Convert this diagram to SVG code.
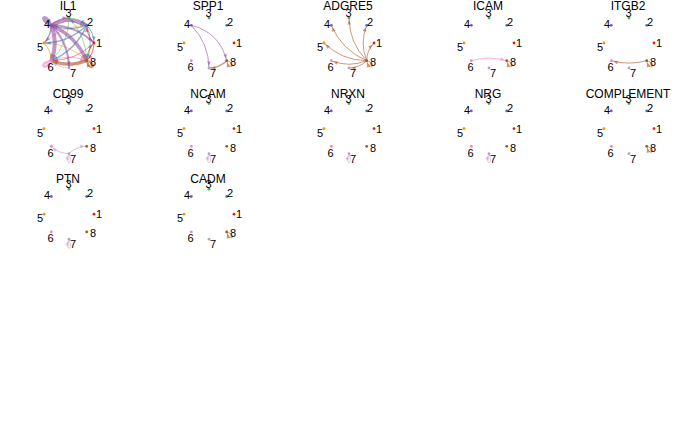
<svg xmlns="http://www.w3.org/2000/svg" width="700" height="432" viewBox="0 0 700 432">
<style>
text{font-family:"Liberation Sans",Arial,sans-serif;fill:#000;text-anchor:middle}
.title{font-size:12px}
.node text{font-size:11px}
.edges path{fill:none;stroke-opacity:0.6;stroke-width:1}
.e1{stroke:#E41A1C;marker-end:url(#a1)}
.e2{stroke:#377EB8;marker-end:url(#a2)}
.e3{stroke:#4DAF4A;marker-end:url(#a3)}
.e4{stroke:#984EA3;marker-end:url(#a4)}
.e5{stroke:#F29403;marker-end:url(#a5)}
.e6{stroke:#F781BF;marker-end:url(#a6)}
.e7{stroke:#BC9DCC;marker-end:url(#a7)}
.e8{stroke:#A65628;marker-end:url(#a8)}
.c1{fill:#E41A1C}.c2{fill:#377EB8}.c3{fill:#4DAF4A}.c4{fill:#984EA3}
.c5{fill:#F29403}.c6{fill:#F781BF}.c7{fill:#BC9DCC}.c8{fill:#A65628}
marker path{fill-opacity:0.6}
</style>
<defs>
<marker id="a1" viewBox="0 0 4.5 3.6" refX="6.5" refY="1.8" markerWidth="4.5" markerHeight="3.6" markerUnits="userSpaceOnUse" orient="auto" overflow="visible"><path class="c1" d="M0,0 L4.5,1.8 L0,3.6 z"/></marker>
<marker id="a2" viewBox="0 0 4.5 3.6" refX="6.5" refY="1.8" markerWidth="4.5" markerHeight="3.6" markerUnits="userSpaceOnUse" orient="auto" overflow="visible"><path class="c2" d="M0,0 L4.5,1.8 L0,3.6 z"/></marker>
<marker id="a3" viewBox="0 0 4.5 3.6" refX="6.5" refY="1.8" markerWidth="4.5" markerHeight="3.6" markerUnits="userSpaceOnUse" orient="auto" overflow="visible"><path class="c3" d="M0,0 L4.5,1.8 L0,3.6 z"/></marker>
<marker id="a4" viewBox="0 0 4.5 3.6" refX="6.5" refY="1.8" markerWidth="4.5" markerHeight="3.6" markerUnits="userSpaceOnUse" orient="auto" overflow="visible"><path class="c4" d="M0,0 L4.5,1.8 L0,3.6 z"/></marker>
<marker id="a5" viewBox="0 0 4.5 3.6" refX="6.5" refY="1.8" markerWidth="4.5" markerHeight="3.6" markerUnits="userSpaceOnUse" orient="auto" overflow="visible"><path class="c5" d="M0,0 L4.5,1.8 L0,3.6 z"/></marker>
<marker id="a6" viewBox="0 0 4.5 3.6" refX="6.5" refY="1.8" markerWidth="4.5" markerHeight="3.6" markerUnits="userSpaceOnUse" orient="auto" overflow="visible"><path class="c6" d="M0,0 L4.5,1.8 L0,3.6 z"/></marker>
<marker id="a7" viewBox="0 0 4.5 3.6" refX="6.5" refY="1.8" markerWidth="4.5" markerHeight="3.6" markerUnits="userSpaceOnUse" orient="auto" overflow="visible"><path class="c7" d="M0,0 L4.5,1.8 L0,3.6 z"/></marker>
<marker id="a8" viewBox="0 0 4.5 3.6" refX="6.5" refY="1.8" markerWidth="4.5" markerHeight="3.6" markerUnits="userSpaceOnUse" orient="auto" overflow="visible"><path class="c8" d="M0,0 L4.5,1.8 L0,3.6 z"/></marker>
</defs>
<rect width="700" height="432" fill="#fff"/>

<!-- IL1 -->
<g id="panel-IL1" transform="translate(69,43)">
<text class="title" x="-1" y="-33.5">IL1</text>
<g id="IL1-edges" class="edges">
<path class="e3" d="M0,-25 Q-0.3,-0.1 -17.7,17.7" style="stroke-width:0.8"/>
<path class="e3" d="M0,-25 Q17.4,-7.2 17.7,17.7" style="stroke-width:0.8"/>
<path class="e3" d="M0,-25 Q10.3,-24.9 17.7,-17.7" style="stroke-width:0.8"/>
<path class="e3" d="M0,-25 Q-7.4,-17.8 -17.7,-17.7" style="stroke-width:0.7"/>
<path class="e5" d="M-25,0 Q-0.1,0.3 17.7,17.7" style="stroke-width:0.8"/>
<path class="e5" d="M-25,0 Q-17.8,7.4 -17.7,17.7"/>
<path class="e5" d="M-25,0 Q-7.2,-17.4 17.7,-17.7" style="stroke-width:0.8"/>
<path class="e7" d="M0,25 Q-10.3,24.9 -17.7,17.7" style="stroke-width:0.8"/>
<path class="e7" d="M0,25 Q7.4,17.8 17.7,17.7" style="stroke-width:0.8"/>
<path class="e1" d="M25,0 Q17.8,-7.4 17.7,-17.7"/>
<path class="e1" d="M25,0 Q24.9,10.3 17.7,17.7"/>
<path class="e1" d="M25,0 Q7.2,17.4 -17.7,17.7" style="stroke-width:0.8"/>
<path class="e2" d="M17.7,-17.7 Q0,-10.6 -17.7,-17.7" style="stroke-width:1.2"/>
<path class="e2" d="M17.7,-17.7 Q-0.1,-0.3 -25,0" style="stroke-width:1.2"/>
<path class="e2" d="M17.7,-17.7 Q7.1,7.1 -17.7,17.7" style="stroke-width:1.5"/>
<path class="e2" d="M17.7,-17.7 Q24.8,0 17.7,17.7"/>
<path class="e2" d="M17.7,-17.7 Q24.9,-10.3 25,0"/>
<path class="e2" d="M17.7,-17.7 Q7.4,-17.8 0,-25"/>
<path class="e6" d="M-17.7,17.7 Q0,10.6 17.7,17.7"/>
<path class="e6" d="M-17.7,17.7 C-31.5,20.1 -24.7,29.8 -17.7,17.7" style="stroke-width:2.5"/>
<path class="e8" d="M17.7,17.7 Q17.8,7.4 25,0"/>
<path class="e8" d="M17.7,17.7 Q0,24.8 -17.7,17.7" style="stroke-width:3.5"/>
<path class="e8" d="M17.7,17.7 C30.3,21.1 21.1,30.3 17.7,17.7" style="stroke-width:2"/>
<path class="e4" d="M-17.7,-17.7 Q0,-28 17.7,-17.7" style="stroke-width:3.5"/>
<path class="e4" d="M-17.7,-17.7 Q7.1,-7.1 17.7,17.7" style="stroke-width:3.5"/>
<path class="e4" d="M-17.7,-17.7 Q-10.6,0 -17.7,17.7" style="stroke-width:4"/>
<path class="e4" d="M-17.7,-17.7 Q-0.3,0.1 0,25" style="stroke-width:2"/>
<path class="e4" d="M-17.7,-17.7 Q7.2,-17.4 25,0" style="stroke-width:2"/>
<path class="e4" d="M-17.7,-17.7 Q-10.3,-24.9 0,-25" style="stroke-width:1.5"/>
<path class="e4" d="M-17.7,-17.7 Q-17.8,-7.4 -25,0" style="stroke-width:1.5"/>
<path class="e4" d="M-17.7,-17.7 C-31.3,-24 -24,-31.3 -17.7,-17.7" style="stroke-width:3"/>
</g>
<g id="IL1-n1" class="node"><circle class="c1" cx="25" cy="0" r="1.4"/><text x="30" y="4">1</text></g>
<g id="IL1-n2" class="node"><circle class="c2" cx="17.7" cy="-17.7" r="1.4"/><text x="21" y="-17">2</text></g>
<g id="IL1-n3" class="node"><circle class="c3" cx="0" cy="-25" r="1.4"/><text x="-0.5" y="-26">3</text></g>
<g id="IL1-n4" class="node"><circle class="c4" cx="-17.7" cy="-17.7" r="1.4"/><text x="-22" y="-15">4</text></g>
<g id="IL1-n5" class="node"><circle class="c5" cx="-25" cy="0" r="1.4"/><text x="-29" y="8">5</text></g>
<g id="IL1-n6" class="node"><circle class="c6" cx="-17.7" cy="17.7" r="1.4"/><text x="-18.5" y="28">6</text></g>
<g id="IL1-n7" class="node"><circle class="c7" cx="0" cy="25" r="1.4"/><text x="4" y="34">7</text></g>
<g id="IL1-n8" class="node"><circle class="c8" cx="17.7" cy="17.7" r="1.4"/><text x="24" y="23">8</text></g>
</g>

<!-- SPP1 -->
<g id="panel-SPP1" transform="translate(209,43)">
<text class="title" x="-1" y="-33.5">SPP1</text>
<g id="SPP1-edges" class="edges">
<path class="e4" d="M-17.7,-17.7 Q10.6,-10.6 17.7,17.7"/>
<path class="e4" d="M-17.7,-17.7 Q-0.3,0.1 0,25"/>
<path class="e8" d="M17.7,17.7 Q10.3,24.9 0,25" style="stroke-width:1.5"/>
<path class="e8" d="M17.7,17.7 C29.3,20.8 20.8,29.3 17.7,17.7"/>
</g>
<g id="SPP1-n1" class="node"><circle class="c1" cx="25" cy="0" r="1.4"/><text x="30" y="4">1</text></g>
<g id="SPP1-n2" class="node"><circle class="c2" cx="17.7" cy="-17.7" r="1.4"/><text x="21" y="-17">2</text></g>
<g id="SPP1-n3" class="node"><circle class="c3" cx="0" cy="-25" r="1.4"/><text x="-0.5" y="-26">3</text></g>
<g id="SPP1-n4" class="node"><circle class="c4" cx="-17.7" cy="-17.7" r="1.4"/><text x="-22" y="-15">4</text></g>
<g id="SPP1-n5" class="node"><circle class="c5" cx="-25" cy="0" r="1.4"/><text x="-29" y="8">5</text></g>
<g id="SPP1-n6" class="node"><circle class="c6" cx="-17.7" cy="17.7" r="1.4"/><text x="-18.5" y="28">6</text></g>
<g id="SPP1-n7" class="node"><circle class="c7" cx="0" cy="25" r="1.4"/><text x="4" y="34">7</text></g>
<g id="SPP1-n8" class="node"><circle class="c8" cx="17.7" cy="17.7" r="1.4"/><text x="24" y="23">8</text></g>
</g>

<!-- ADGRE5 -->
<g id="panel-ADGRE5" transform="translate(349,43)">
<text class="title" x="-1" y="-33.5">ADGRE5</text>
<g id="ADGRE5-edges" class="edges">
<path class="e8" d="M17.7,17.7 Q17.8,7.4 25,0"/>
<path class="e8" d="M17.7,17.7 Q10.6,0 17.7,-17.7"/>
<path class="e8" d="M17.7,17.7 Q0.3,-0.1 0,-25"/>
<path class="e8" d="M17.7,17.7 Q-7.1,7.1 -17.7,-17.7"/>
<path class="e8" d="M17.7,17.7 Q-7.2,17.4 -25,0"/>
<path class="e8" d="M17.7,17.7 Q0,24.8 -17.7,17.7"/>
<path class="e8" d="M17.7,17.7 Q10.3,24.9 0,25"/>
<path class="e8" d="M17.7,17.7 C29.3,20.8 20.8,29.3 17.7,17.7"/>
</g>
<g id="ADGRE5-n1" class="node"><circle class="c1" cx="25" cy="0" r="1.4"/><text x="30" y="4">1</text></g>
<g id="ADGRE5-n2" class="node"><circle class="c2" cx="17.7" cy="-17.7" r="1.4"/><text x="21" y="-17">2</text></g>
<g id="ADGRE5-n3" class="node"><circle class="c3" cx="0" cy="-25" r="1.4"/><text x="-0.5" y="-26">3</text></g>
<g id="ADGRE5-n4" class="node"><circle class="c4" cx="-17.7" cy="-17.7" r="1.4"/><text x="-22" y="-15">4</text></g>
<g id="ADGRE5-n5" class="node"><circle class="c5" cx="-25" cy="0" r="1.4"/><text x="-29" y="8">5</text></g>
<g id="ADGRE5-n6" class="node"><circle class="c6" cx="-17.7" cy="17.7" r="1.4"/><text x="-18.5" y="28">6</text></g>
<g id="ADGRE5-n7" class="node"><circle class="c7" cx="0" cy="25" r="1.4"/><text x="4" y="34">7</text></g>
<g id="ADGRE5-n8" class="node"><circle class="c8" cx="17.7" cy="17.7" r="1.4"/><text x="24" y="23">8</text></g>
</g>

<!-- ICAM -->
<g id="panel-ICAM" transform="translate(489,43)">
<text class="title" x="-1" y="-33.5">ICAM</text>
<g id="ICAM-edges" class="edges">
<path class="e6" d="M-17.7,17.7 Q0,12.5 17.7,17.7"/>
<path class="e8" d="M17.7,17.7 C29.3,20.8 20.8,29.3 17.7,17.7"/>
</g>
<g id="ICAM-n1" class="node"><circle class="c1" cx="25" cy="0" r="1.4"/><text x="30" y="4">1</text></g>
<g id="ICAM-n2" class="node"><circle class="c2" cx="17.7" cy="-17.7" r="1.4"/><text x="21" y="-17">2</text></g>
<g id="ICAM-n3" class="node"><circle class="c3" cx="0" cy="-25" r="1.4"/><text x="-0.5" y="-26">3</text></g>
<g id="ICAM-n4" class="node"><circle class="c4" cx="-17.7" cy="-17.7" r="1.4"/><text x="-22" y="-15">4</text></g>
<g id="ICAM-n5" class="node"><circle class="c5" cx="-25" cy="0" r="1.4"/><text x="-29" y="8">5</text></g>
<g id="ICAM-n6" class="node"><circle class="c6" cx="-17.7" cy="17.7" r="1.4"/><text x="-18.5" y="28">6</text></g>
<g id="ICAM-n7" class="node"><circle class="c7" cx="0" cy="25" r="1.4"/><text x="4" y="34">7</text></g>
<g id="ICAM-n8" class="node"><circle class="c8" cx="17.7" cy="17.7" r="1.4"/><text x="24" y="23">8</text></g>
</g>

<!-- ITGB2 -->
<g id="panel-ITGB2" transform="translate(629,43)">
<text class="title" x="-1" y="-33.5">ITGB2</text>
<g id="ITGB2-edges" class="edges">
<path class="e8" d="M17.7,17.7 Q0,22.5 -17.7,17.7"/>
<path class="e8" d="M17.7,17.7 C29.3,20.8 20.8,29.3 17.7,17.7"/>
</g>
<g id="ITGB2-n1" class="node"><circle class="c1" cx="25" cy="0" r="1.4"/><text x="30" y="4">1</text></g>
<g id="ITGB2-n2" class="node"><circle class="c2" cx="17.7" cy="-17.7" r="1.4"/><text x="21" y="-17">2</text></g>
<g id="ITGB2-n3" class="node"><circle class="c3" cx="0" cy="-25" r="1.4"/><text x="-0.5" y="-26">3</text></g>
<g id="ITGB2-n4" class="node"><circle class="c4" cx="-17.7" cy="-17.7" r="1.4"/><text x="-22" y="-15">4</text></g>
<g id="ITGB2-n5" class="node"><circle class="c5" cx="-25" cy="0" r="1.4"/><text x="-29" y="8">5</text></g>
<g id="ITGB2-n6" class="node"><circle class="c6" cx="-17.7" cy="17.7" r="1.4"/><text x="-18.5" y="28">6</text></g>
<g id="ITGB2-n7" class="node"><circle class="c7" cx="0" cy="25" r="1.4"/><text x="4" y="34">7</text></g>
<g id="ITGB2-n8" class="node"><circle class="c8" cx="17.7" cy="17.7" r="1.4"/><text x="24" y="23">8</text></g>
</g>

<!-- CD99 -->
<g id="panel-CD99" transform="translate(69,128.6)">
<text class="title" x="-1" y="-31">CD99</text>
<g id="CD99-edges" class="edges">
<path class="e7" d="M0,25 Q-10.3,24.9 -17.7,17.7"/>
<path class="e7" d="M0,25 Q7.4,17.8 17.7,17.7"/>
<path class="e7" d="M0,25 C4.4,37.2 -4.4,37.2 0,25"/>
</g>
<g id="CD99-n1" class="node"><circle class="c1" cx="25" cy="0" r="1.4"/><text x="30" y="4">1</text></g>
<g id="CD99-n2" class="node"><circle class="c2" cx="17.7" cy="-17.7" r="1.4"/><text x="21" y="-17">2</text></g>
<g id="CD99-n3" class="node"><circle class="c3" cx="0" cy="-25" r="1.4"/><text x="-0.5" y="-26">3</text></g>
<g id="CD99-n4" class="node"><circle class="c4" cx="-17.7" cy="-17.7" r="1.4"/><text x="-22" y="-15">4</text></g>
<g id="CD99-n5" class="node"><circle class="c5" cx="-25" cy="0" r="1.4"/><text x="-29" y="8">5</text></g>
<g id="CD99-n6" class="node"><circle class="c6" cx="-17.7" cy="17.7" r="1.4"/><text x="-18.5" y="28">6</text></g>
<g id="CD99-n7" class="node"><circle class="c7" cx="0" cy="25" r="1.4"/><text x="4" y="34">7</text></g>
<g id="CD99-n8" class="node"><circle class="c8" cx="17.7" cy="17.7" r="1.4"/><text x="24" y="23">8</text></g>
</g>

<!-- NCAM -->
<g id="panel-NCAM" transform="translate(209,128.6)">
<text class="title" x="-1" y="-31">NCAM</text>
<g id="NCAM-edges" class="edges">
<path class="e7" d="M0,25 C4.4,37.2 -4.4,37.2 0,25"/>
</g>
<g id="NCAM-n1" class="node"><circle class="c1" cx="25" cy="0" r="1.4"/><text x="30" y="4">1</text></g>
<g id="NCAM-n2" class="node"><circle class="c2" cx="17.7" cy="-17.7" r="1.4"/><text x="21" y="-17">2</text></g>
<g id="NCAM-n3" class="node"><circle class="c3" cx="0" cy="-25" r="1.4"/><text x="-0.5" y="-26">3</text></g>
<g id="NCAM-n4" class="node"><circle class="c4" cx="-17.7" cy="-17.7" r="1.4"/><text x="-22" y="-15">4</text></g>
<g id="NCAM-n5" class="node"><circle class="c5" cx="-25" cy="0" r="1.4"/><text x="-29" y="8">5</text></g>
<g id="NCAM-n6" class="node"><circle class="c6" cx="-17.7" cy="17.7" r="1.4"/><text x="-18.5" y="28">6</text></g>
<g id="NCAM-n7" class="node"><circle class="c7" cx="0" cy="25" r="1.4"/><text x="4" y="34">7</text></g>
<g id="NCAM-n8" class="node"><circle class="c8" cx="17.7" cy="17.7" r="1.4"/><text x="24" y="23">8</text></g>
</g>

<!-- NRXN -->
<g id="panel-NRXN" transform="translate(349,128.6)">
<text class="title" x="-1" y="-31">NRXN</text>
<g id="NRXN-edges" class="edges">
<path class="e7" d="M0,25 C4.4,37.2 -4.4,37.2 0,25"/>
</g>
<g id="NRXN-n1" class="node"><circle class="c1" cx="25" cy="0" r="1.4"/><text x="30" y="4">1</text></g>
<g id="NRXN-n2" class="node"><circle class="c2" cx="17.7" cy="-17.7" r="1.4"/><text x="21" y="-17">2</text></g>
<g id="NRXN-n3" class="node"><circle class="c3" cx="0" cy="-25" r="1.4"/><text x="-0.5" y="-26">3</text></g>
<g id="NRXN-n4" class="node"><circle class="c4" cx="-17.7" cy="-17.7" r="1.4"/><text x="-22" y="-15">4</text></g>
<g id="NRXN-n5" class="node"><circle class="c5" cx="-25" cy="0" r="1.4"/><text x="-29" y="8">5</text></g>
<g id="NRXN-n6" class="node"><circle class="c6" cx="-17.7" cy="17.7" r="1.4"/><text x="-18.5" y="28">6</text></g>
<g id="NRXN-n7" class="node"><circle class="c7" cx="0" cy="25" r="1.4"/><text x="4" y="34">7</text></g>
<g id="NRXN-n8" class="node"><circle class="c8" cx="17.7" cy="17.7" r="1.4"/><text x="24" y="23">8</text></g>
</g>

<!-- NRG -->
<g id="panel-NRG" transform="translate(489,128.6)">
<text class="title" x="-1" y="-31">NRG</text>
<g id="NRG-edges" class="edges">
<path class="e7" d="M0,25 C4.4,37.2 -4.4,37.2 0,25"/>
</g>
<g id="NRG-n1" class="node"><circle class="c1" cx="25" cy="0" r="1.4"/><text x="30" y="4">1</text></g>
<g id="NRG-n2" class="node"><circle class="c2" cx="17.7" cy="-17.7" r="1.4"/><text x="21" y="-17">2</text></g>
<g id="NRG-n3" class="node"><circle class="c3" cx="0" cy="-25" r="1.4"/><text x="-0.5" y="-26">3</text></g>
<g id="NRG-n4" class="node"><circle class="c4" cx="-17.7" cy="-17.7" r="1.4"/><text x="-22" y="-15">4</text></g>
<g id="NRG-n5" class="node"><circle class="c5" cx="-25" cy="0" r="1.4"/><text x="-29" y="8">5</text></g>
<g id="NRG-n6" class="node"><circle class="c6" cx="-17.7" cy="17.7" r="1.4"/><text x="-18.5" y="28">6</text></g>
<g id="NRG-n7" class="node"><circle class="c7" cx="0" cy="25" r="1.4"/><text x="4" y="34">7</text></g>
<g id="NRG-n8" class="node"><circle class="c8" cx="17.7" cy="17.7" r="1.4"/><text x="24" y="23">8</text></g>
</g>

<!-- COMPLEMENT -->
<g id="panel-COMPLEMENT" transform="translate(629,128.6)">
<text class="title" x="-1" y="-31">COMPLEMENT</text>
<g id="COMPLEMENT-edges" class="edges">
<path class="e8" d="M17.7,17.7 C29.3,20.8 20.8,29.3 17.7,17.7"/>
</g>
<g id="COMPLEMENT-n1" class="node"><circle class="c1" cx="25" cy="0" r="1.4"/><text x="30" y="4">1</text></g>
<g id="COMPLEMENT-n2" class="node"><circle class="c2" cx="17.7" cy="-17.7" r="1.4"/><text x="21" y="-17">2</text></g>
<g id="COMPLEMENT-n3" class="node"><circle class="c3" cx="0" cy="-25" r="1.4"/><text x="-0.5" y="-26">3</text></g>
<g id="COMPLEMENT-n4" class="node"><circle class="c4" cx="-17.7" cy="-17.7" r="1.4"/><text x="-22" y="-15">4</text></g>
<g id="COMPLEMENT-n5" class="node"><circle class="c5" cx="-25" cy="0" r="1.4"/><text x="-29" y="8">5</text></g>
<g id="COMPLEMENT-n6" class="node"><circle class="c6" cx="-17.7" cy="17.7" r="1.4"/><text x="-18.5" y="28">6</text></g>
<g id="COMPLEMENT-n7" class="node"><circle class="c7" cx="0" cy="25" r="1.4"/><text x="4" y="34">7</text></g>
<g id="COMPLEMENT-n8" class="node"><circle class="c8" cx="17.7" cy="17.7" r="1.4"/><text x="24" y="23">8</text></g>
</g>

<!-- PTN -->
<g id="panel-PTN" transform="translate(69,214.2)">
<text class="title" x="-1" y="-31">PTN</text>
<g id="PTN-edges" class="edges">
<path class="e7" d="M0,25 C4.4,37.2 -4.4,37.2 0,25"/>
</g>
<g id="PTN-n1" class="node"><circle class="c1" cx="25" cy="0" r="1.4"/><text x="30" y="4">1</text></g>
<g id="PTN-n2" class="node"><circle class="c2" cx="17.7" cy="-17.7" r="1.4"/><text x="21" y="-17">2</text></g>
<g id="PTN-n3" class="node"><circle class="c3" cx="0" cy="-25" r="1.4"/><text x="-0.5" y="-26">3</text></g>
<g id="PTN-n4" class="node"><circle class="c4" cx="-17.7" cy="-17.7" r="1.4"/><text x="-22" y="-15">4</text></g>
<g id="PTN-n5" class="node"><circle class="c5" cx="-25" cy="0" r="1.4"/><text x="-29" y="8">5</text></g>
<g id="PTN-n6" class="node"><circle class="c6" cx="-17.7" cy="17.7" r="1.4"/><text x="-18.5" y="28">6</text></g>
<g id="PTN-n7" class="node"><circle class="c7" cx="0" cy="25" r="1.4"/><text x="4" y="34">7</text></g>
<g id="PTN-n8" class="node"><circle class="c8" cx="17.7" cy="17.7" r="1.4"/><text x="24" y="23">8</text></g>
</g>

<!-- CADM -->
<g id="panel-CADM" transform="translate(209,214.2)">
<text class="title" x="-1" y="-31">CADM</text>
<g id="CADM-edges" class="edges">
<path class="e8" d="M17.7,17.7 C29.3,20.8 20.8,29.3 17.7,17.7"/>
</g>
<g id="CADM-n1" class="node"><circle class="c1" cx="25" cy="0" r="1.4"/><text x="30" y="4">1</text></g>
<g id="CADM-n2" class="node"><circle class="c2" cx="17.7" cy="-17.7" r="1.4"/><text x="21" y="-17">2</text></g>
<g id="CADM-n3" class="node"><circle class="c3" cx="0" cy="-25" r="1.4"/><text x="-0.5" y="-26">3</text></g>
<g id="CADM-n4" class="node"><circle class="c4" cx="-17.7" cy="-17.7" r="1.4"/><text x="-22" y="-15">4</text></g>
<g id="CADM-n5" class="node"><circle class="c5" cx="-25" cy="0" r="1.4"/><text x="-29" y="8">5</text></g>
<g id="CADM-n6" class="node"><circle class="c6" cx="-17.7" cy="17.7" r="1.4"/><text x="-18.5" y="28">6</text></g>
<g id="CADM-n7" class="node"><circle class="c7" cx="0" cy="25" r="1.4"/><text x="4" y="34">7</text></g>
<g id="CADM-n8" class="node"><circle class="c8" cx="17.7" cy="17.7" r="1.4"/><text x="24" y="23">8</text></g>
</g>
</svg>
